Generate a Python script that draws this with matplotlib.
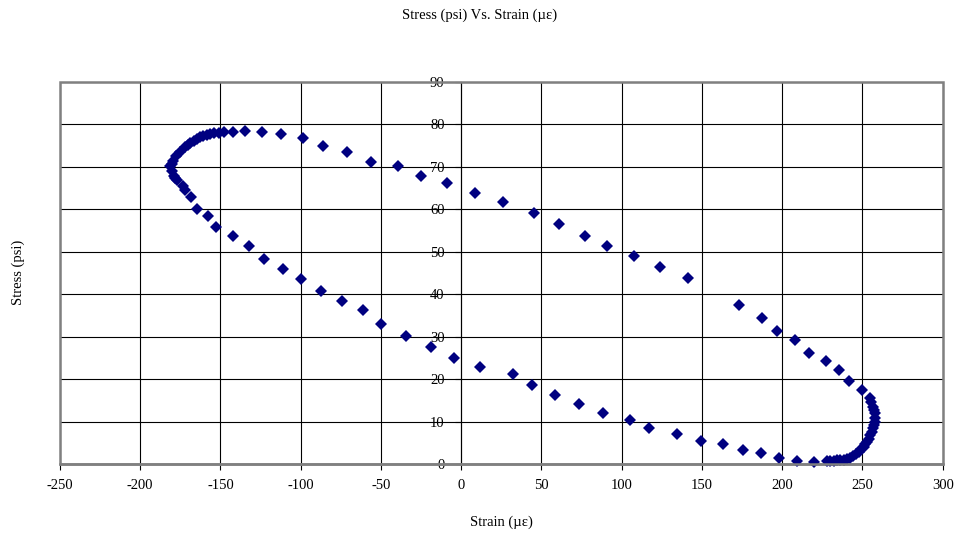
import numpy as np
import matplotlib.pyplot as plt
from matplotlib.patches import Rectangle

plt.rcParams['font.family'] = ['Liberation Serif', 'DejaVu Serif']
plt.rcParams['axes.unicode_minus'] = False

strain = [219.5, 209.2, 198.1, 187.0, 175.4, 163.4, 149.3, 134.5, 117.0, 105.1,
          88.5, 73.5, 58.6, 44.0, 32.2, 11.8, -4.3, -19.0, -34.3, -49.8,
          -61.0, -74.6, -87.2, -99.7, -111.3, -123.2, -132.1, -142.5, -152.6, -157.5,
          -164.7, -168.2, -172.0, -173.6, -176.8, -178.5, -179.2, -180.2, -181.3, -180.5,
          -179.6, -177.6, -175.1, -172.0, -170.5, -168.8, -166.5, -164.7, -162.5, -160.6,
          -158.5, -156.4, -153.8, -151.2, -148.0, -141.9, -134.6, -124.2, -112.1, -98.6,
          -86.2, -71.2, -56.3, -39.1, -25.1, -8.9, 8.7, 26.0, 45.5, 61.1,
          77.3, 90.8, 107.8, 124.0, 141.6, 173.2, 187.3, 196.7, 208.1, 216.4,
          227.2, 235.5, 241.9, 249.6, 254.8, 255.5, 256.5, 257.2, 257.9, 257.8,
          257.5, 257.0, 256.5, 255.7, 254.8, 253.8, 252.8, 251.8, 250.7, 249.2,
          247.6, 246.0, 244.4, 242.4, 240.3, 238.2, 236.1, 234.0, 232.0, 230.0,
          227.8]
stress = [0.5, 0.8, 1.5, 2.6, 3.3, 4.6, 5.4, 7.0, 8.4, 10.3,
          12.0, 14.1, 16.3, 18.7, 21.2, 22.9, 25.0, 27.6, 30.2, 33.1,
          36.2, 38.3, 40.8, 43.5, 45.9, 48.2, 51.3, 53.7, 55.9, 58.5,
          60.1, 62.8, 64.6, 65.5, 66.8, 67.4, 67.9, 69.1, 70.2, 70.8,
          71.5, 72.6, 73.6, 74.6, 75.1, 75.6, 76.1, 76.5, 77.0, 77.3,
          77.6, 77.8, 78.0, 78.1, 78.3, 78.3, 78.5, 78.2, 77.7, 76.7,
          74.9, 73.4, 71.2, 70.1, 67.9, 66.1, 63.8, 61.7, 59.2, 56.6,
          53.8, 51.4, 49.0, 46.5, 43.8, 37.5, 34.3, 31.3, 29.2, 26.2,
          24.3, 22.1, 19.6, 17.5, 15.5, 14.5, 13.5, 12.7, 11.9, 10.9,
          10.0, 9.2, 8.4, 7.6, 6.8, 6.0, 5.3, 4.7, 4.1, 3.5,
          2.9, 2.4, 1.9, 1.5, 1.2, 1.0, 0.9, 0.85, 0.8, 0.75,
          0.7]

fig = plt.figure(figsize=(9.6, 5.35), dpi=100)
ax = fig.add_axes([0.0625, 0.1327, 0.9195, 0.714])

ax.plot(strain, stress, linestyle='none', marker='D', markersize=5.8,
        color='#000080', markeredgewidth=0, zorder=5, clip_on=False)

ax.set_xlim(-250, 300)
ax.set_ylim(0, 90)
ax.set_xticks(np.arange(-250, 301, 50))
ax.set_yticks(np.arange(0, 91, 10))
ax.grid(True, color='black', linewidth=0.8)
ax.set_axisbelow(True)

# y axis crosses at strain = 0
ax.spines['left'].set_position(('data', 0))
ax.spines['left'].set_color('black')
ax.spines['left'].set_linewidth(0.8)
for s in ['top', 'right']:
    ax.spines[s].set_visible(False)
ax.spines['bottom'].set_color('#808080')
ax.spines['bottom'].set_linewidth(1.8)
ax.add_patch(Rectangle((0, 0), 1, 1, transform=ax.transAxes, fill=False,
                       edgecolor='#808080', linewidth=1.8, zorder=6, clip_on=False))

ax.tick_params(axis='x', direction='out', length=4, width=0.8, pad=7,
               labelsize=10.5, colors='black')
ax.tick_params(axis='y', direction='out', length=4, width=0.8, pad=8,
               labelsize=10.5, colors='black')

fig.text(0.5, 0.972, 'Stress (psi) Vs. Strain (\u00b5\u03b5)', ha='center', va='center', fontsize=10.5)
fig.text(0.522, 0.024, 'Strain (\u00b5\u03b5)', ha='center', va='center', fontsize=10.5)
fig.text(0.019, 0.49, 'Stress (psi)', ha='center', va='center', rotation=90, fontsize=10.5)

fig.savefig('out.png', dpi=100)
